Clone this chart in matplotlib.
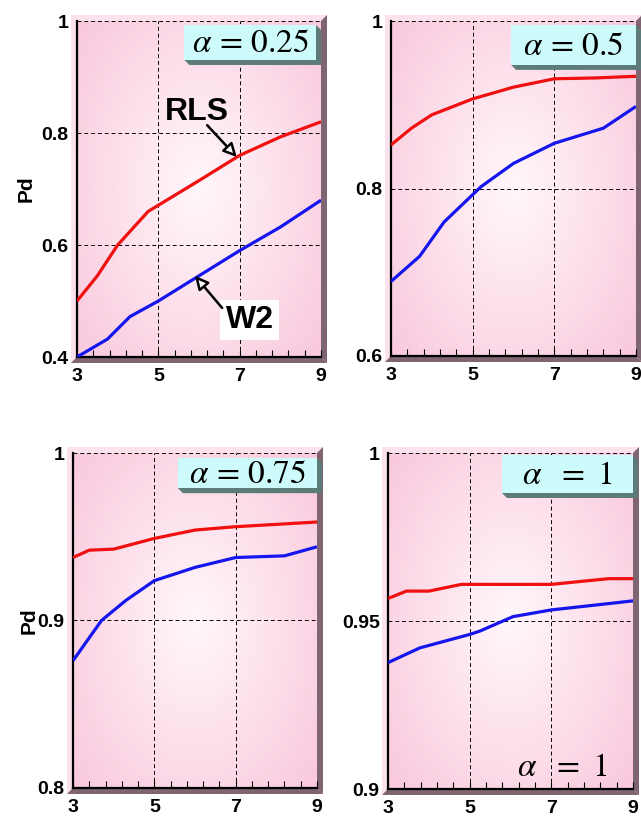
import numpy as np
import matplotlib
matplotlib.use('Agg')
import matplotlib.pyplot as plt
from matplotlib.patches import Polygon, Rectangle
from matplotlib.colors import LinearSegmentedColormap

plt.rcParams['font.family'] = 'Liberation Sans'
plt.rcParams['mathtext.fontset'] = 'stix'

# data
x_ticks = [3, 5, 7, 9]

x1_rls = [3, 3.5, 4, 4.75, 6, 7, 8, 9]
y1_rls = [0.50, 0.545, 0.60, 0.66, 0.715, 0.76, 0.793, 0.82]
x1_w2 = [3, 3.75, 4.3, 5, 6, 7, 8, 9]
y1_w2 = [0.40, 0.432, 0.472, 0.50, 0.545, 0.59, 0.632, 0.68]

x2_rls = [3, 3.5, 4, 5, 6, 7, 8, 9]
y2_rls = [0.852, 0.872, 0.888, 0.907, 0.921, 0.931, 0.932, 0.934]
x2_w2 = [3, 3.7, 4.3, 5.2, 6, 7, 8.2, 9]
y2_w2 = [0.689, 0.719, 0.760, 0.802, 0.830, 0.854, 0.872, 0.898]

x3_rls = [3, 3.4, 4, 5, 6, 7, 9]
y3_rls = [0.9376, 0.942, 0.9426, 0.949, 0.954, 0.956, 0.9588]
x3_w2 = [3, 3.7, 4.3, 5, 6, 7, 8.2, 9]
y3_w2 = [0.876, 0.9, 0.912, 0.9238, 0.9317, 0.9376, 0.9386, 0.944]

x4_rls = [3, 3.45, 4, 4.8, 7, 8.4, 9]
y4_rls = [0.9567, 0.9589, 0.9589, 0.9609, 0.9609, 0.9626, 0.9626]
x4_w2 = [3, 3.78, 5, 5.25, 6.06, 7, 8.27, 9]
y4_w2 = [0.9376, 0.942, 0.946, 0.947, 0.9513, 0.9533, 0.955, 0.956]

y_ticks = [[0.4, 0.6, 0.8, 1], [0.6, 0.8, 1], [0.8, 0.9, 1], [0.9, 0.95, 1]]
y_labels = [['0.4', '0.6', '0.8', '1'], ['0.6', '0.8', '1'],
            ['0.8', '0.9', '1'], ['0.9', '0.95', '1']]
alpha_labels = [r'$\alpha\,=\,0.25$', r'$\alpha\,=\,0.5$', r'$\alpha\,=\,0.75$', r'$\alpha\ \ =\ 1$']

panels = [(x1_rls, y1_rls, x1_w2, y1_w2), (x2_rls, y2_rls, x2_w2, y2_w2),
          (x3_rls, y3_rls, x3_w2, y3_w2), (x4_rls, y4_rls, x4_w2, y4_w2)]

W, H = 641, 819
# pixel boxes (left, right, top, bottom)
boxes = [(77, 321, 21, 357), (391, 636, 21, 356), (73, 317, 453, 788), (388, 633, 453, 789)]
# label box in axes fraction (x0, x1, y0, y1)
lab_boxes = [(0.44, 0.98, 0.884, 0.988), (0.49, 1.0, 0.869, 0.988),
             (0.43, 1.0, 0.895, 0.985), (0.465, 1.0, 0.881, 0.994)]

fig = plt.figure(figsize=(W / 100, H / 100), dpi=100)

pink = LinearSegmentedColormap.from_list('pk', ['#fff7fb', '#fde0ec', '#f9c8dc'])
gx, gy = np.meshgrid(np.linspace(-1, 1, 200), np.linspace(-1, 1, 200))
grad = np.sqrt(gx ** 2 + (gy * 0.9) ** 2) / 1.35


def fx(px):
    return px / W


def fy(py):
    return 1 - py / H


d = 6
for i, (L, R, T, B) in enumerate(boxes):
    # back wall and 3d frame bands
    fig.add_artist(Rectangle((fx(L - d), fy(B + d)), fx(R + d) - fx(L - d), fy(T - d) - fy(B + d),
                             transform=fig.transFigure, fc='#fbe2ec', ec='none', zorder=-2))
    fig.add_artist(Polygon([(fx(R), fy(T)), (fx(R + d), fy(T - d)), (fx(R + d), fy(B + d)), (fx(R), fy(B))],
                           transform=fig.transFigure, fc='#7e6571', ec='none', zorder=-1))
    fig.add_artist(Polygon([(fx(L), fy(B)), (fx(L - d), fy(B + d)), (fx(R + d), fy(B + d)), (fx(R), fy(B))],
                           transform=fig.transFigure, fc='#7e6571', ec='none', zorder=-1))

    ax = fig.add_axes([fx(L), fy(B), (R - L) / W, (B - T) / H])
    ymin, ymax = y_ticks[i][0], y_ticks[i][-1]
    ax.imshow(grad, cmap=pink, extent=[3, 9, ymin, ymax], aspect='auto', zorder=0,
              vmin=0, vmax=1, interpolation='bilinear')
    xr, yr, xw, yw = panels[i]
    ax.plot(xr, yr, color='#f01010', lw=2.3, zorder=3, solid_capstyle='butt')
    ax.plot(xw, yw, color='#1515ee', lw=2.3, zorder=3, solid_capstyle='butt')
    ax.set_xlim(3, 9)
    ax.set_ylim(ymin, ymax)
    ax.set_xticks(x_ticks)
    ax.set_xticks(np.arange(3.4, 9, 0.4), minor=True)
    ax.set_yticks(y_ticks[i])
    ax.set_yticklabels(y_labels[i])
    ax.grid(True, which='major', color='black', ls=(0, (4, 3)), lw=0.7)
    ax.tick_params(axis='x', which='both', direction='in', length=5, width=0.8, pad=8,
                   labelsize=14)
    ax.tick_params(axis='y', length=0, pad=6, labelsize=14)
    for lab in ax.get_xticklabels() + ax.get_yticklabels():
        lab.set_fontweight('bold')
    for s in ['top', 'right']:
        ax.spines[s].set_visible(False)
    for s in ['left', 'bottom']:
        ax.spines[s].set_linewidth(1.6)
    if i in (0, 2):
        ax.set_ylabel('Pd', fontsize=15, fontweight='bold', labelpad=-1 if i == 2 else 4)

    # alpha label box with 3d shadow
    x0, x1, y0, y1 = lab_boxes[i]
    ox = 5 / (R - L)
    oy = 5 / (B - T)
    ax.add_patch(Polygon([(x0, y0), (x0 + ox, y0 - oy), (x1 + ox, y0 - oy), (x1 + ox, y1 - oy), (x1, y1)],
                         transform=ax.transAxes, fc='#5d7b78', ec='none', clip_on=False, zorder=5))
    ax.add_patch(Rectangle((x0, y0), x1 - x0, y1 - y0, transform=ax.transAxes,
                           fc='#cdfafa', ec='none', clip_on=False, zorder=6))
    ax.text((x0 + x1) / 2, (y0 + y1) / 2 - 0.004, alpha_labels[i], transform=ax.transAxes,
            ha='center', va='center', fontsize=24, zorder=7)

    if i == 0:
        ax.text(5.95, 0.838, 'RLS', fontsize=23, fontweight='bold', ha='center', va='center', zorder=6)
        ax.annotate('', xy=(6.93, 0.757), xytext=(6.2, 0.814),
                    arrowprops=dict(arrowstyle='-|>,head_length=0.8,head_width=0.4',
                                    fc='white', ec='black', lw=1.8, shrinkA=0, shrinkB=0),
                    zorder=6)
        ax.text(7.25, 0.466, 'W2', fontsize=23, fontweight='bold', ha='center', va='center', zorder=6,
                bbox=dict(fc='white', ec='none', pad=4))
        ax.annotate('', xy=(5.9, 0.545), xytext=(6.57, 0.4875),
                    arrowprops=dict(arrowstyle='-|>,head_length=0.8,head_width=0.4',
                                    fc='white', ec='black', lw=1.8, shrinkA=0, shrinkB=0),
                    zorder=6)
    if i == 3:
        ax.text(0.71, 0.065, r'$\alpha\ \ =\ 1$', transform=ax.transAxes, fontsize=24,
                ha='center', va='center', zorder=2)

fig.savefig('out.png', dpi=100)
